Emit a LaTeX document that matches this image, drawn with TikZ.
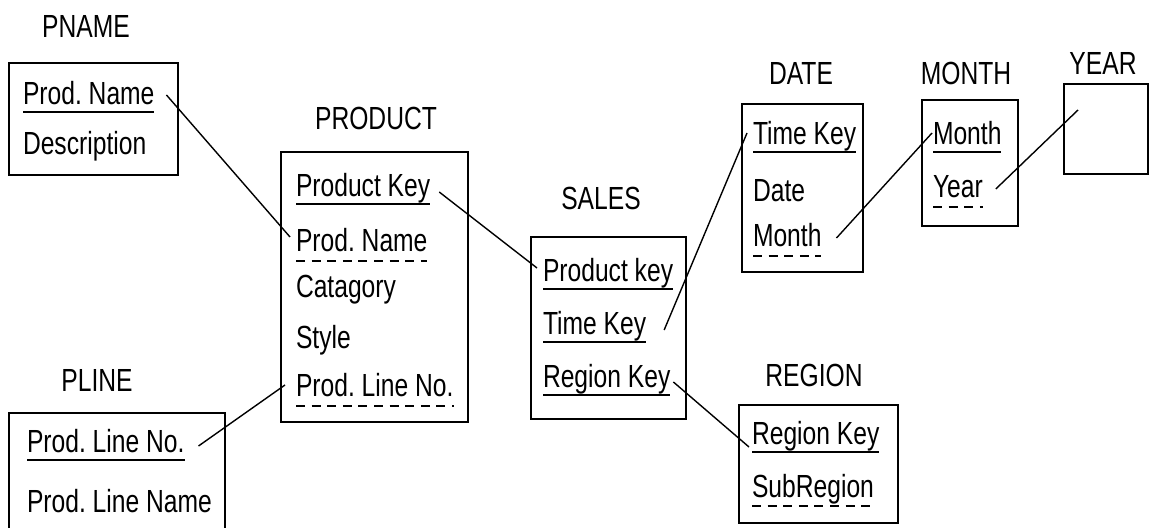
\documentclass[tikz,border=0pt]{standalone}
\usepackage{fontspec}
\newfontfamily\erfont[FakeStretch=0.77]{Liberation Sans}
\frenchspacing

\tikzset{
	tbl/.style={draw, line width=1pt, inner sep=0pt, outer sep=0pt},
	tname/.style={font=\erfont\fontsize{16}{19}\selectfont, inner sep=0pt, anchor=base},
	field/.style={font=\erfont\fontsize{16}{19}\selectfont, inner sep=0pt, outer sep=0pt,
		anchor=base west, text height=12pt, text depth=3.5pt},
	pk/.style={field, append after command={(\tikzlastnode.south west)
		edge[line width=0.9pt] (\tikzlastnode.south east)}},
	fk/.style={field, text depth=4.5pt, append after command={(\tikzlastnode.south west)
		edge[line width=0.9pt, dash pattern=on 4.5pt off 3.3pt] (\tikzlastnode.south east)}},
	link/.style={line width=0.7pt}
}

\begin{document}
\begin{tikzpicture}[x=0.5pt, y=-0.5pt]
	\clip (0,0) rectangle (1150,528);
	% tables
	\node[tbl, minimum width=84.5pt, minimum height=56pt] (pname) at (93.5,119) {};
	\node[tbl, minimum width=93.5pt, minimum height=135pt] (product) at (374.5,287) {};
	\node[tbl, minimum width=108pt, minimum height=66pt] (pline) at (117,479) {};
	\node[tbl, minimum width=77.5pt, minimum height=91pt] (sales) at (608.5,328) {};
	\node[tbl, minimum width=60.5pt, minimum height=84pt] (date) at (802.5,188) {};
	\node[tbl, minimum width=48pt, minimum height=63pt] (month) at (970,163) {};
	\node[tbl, minimum width=42pt, minimum height=45pt] (year) at (1106,129) {};
	\node[tbl, minimum width=79.5pt, minimum height=59pt] (region) at (818.5,464) {};
	% table names
	\node[tname] (pname-t) at (86,38) {PNAME};
	\node[tname] (product-t) at (376,130) {PRODUCT};
	\node[tname] (pline-t) at (97,392) {PLINE};
	\node[tname] (sales-t) at (601,210) {SALES};
	\node[tname] (date-t) at (801,85) {DATE};
	\node[tname] (month-t) at (966,85) {MONTH};
	\node[tname] (year-t) at (1103,75) {YEAR};
	\node[tname] (region-t) at (814,387) {REGION};
	% fields
	\node[pk] (pn-name) at (23,105) {Prod. Name};
	\node[field] (pn-desc) at (23,155) {Description};
	\node[pk] (pr-key) at (296,197) {Product Key};
	\node[fk] (pr-name) at (296,252) {Prod. Name};
	\node[field] (pr-cat) at (296,298) {Catagory};
	\node[field] (pr-style) at (296,349) {Style};
	\node[fk] (pr-line) at (296,397) {Prod. Line No.};
	\node[pk] (pl-no) at (27,453) {Prod. Line No.};
	\node[field] (pl-name) at (27,512) {Prod. Line Name};
	\node[pk] (sa-prod) at (543,282) {Product key};
	\node[pk] (sa-time) at (543,335) {Time Key};
	\node[pk] (sa-reg) at (543,388) {Region Key};
	\node[pk] (da-time) at (753,145) {Time Key};
	\node[field] (da-date) at (753,202) {Date};
	\node[fk] (da-month) at (753,247) {Month};
	\node[pk] (mo-month) at (933,145) {Month};
	\node[fk] (mo-year) at (933,198) {Year};
	\node[pk] (re-key) at (752,445) {Region Key};
	\node[fk] (re-sub) at (752,497) {SubRegion};
	\coordinate (ye-end) at (1078,110);
	% links
	\draw[link] ([xshift=6pt,yshift=0.75pt]pn-name.east) -- ([xshift=-3pt,yshift=3.75pt]pr-name.west);
	\draw[link] ([xshift=7pt,yshift=-0.75pt]pl-no.east) -- ([xshift=-5.5pt,yshift=2.25pt]pr-line.west);
	\draw[link] ([xshift=4.5pt,yshift=-1.75pt]pr-key.east) -- ([xshift=-3pt,yshift=2.75pt]sa-prod.west);
	\draw[link] ([xshift=9pt,yshift=-1.75pt]sa-time.east) -- ([xshift=-3pt,yshift=1.75pt]da-time.west);
	\draw[link] ([xshift=1.5pt,yshift=-1.25pt]sa-reg.east) -- ([xshift=-1.5pt,yshift=-5.25pt]re-key.west);
	\draw[link] ([xshift=7.5pt,yshift=0.75pt]da-month.east) -- ([xshift=-0.5pt,yshift=1.75pt]mo-month.west);
	\draw[link] ([xshift=6.5pt,yshift=0.75pt]mo-year.east) -- (ye-end);
\end{tikzpicture}
\end{document}
